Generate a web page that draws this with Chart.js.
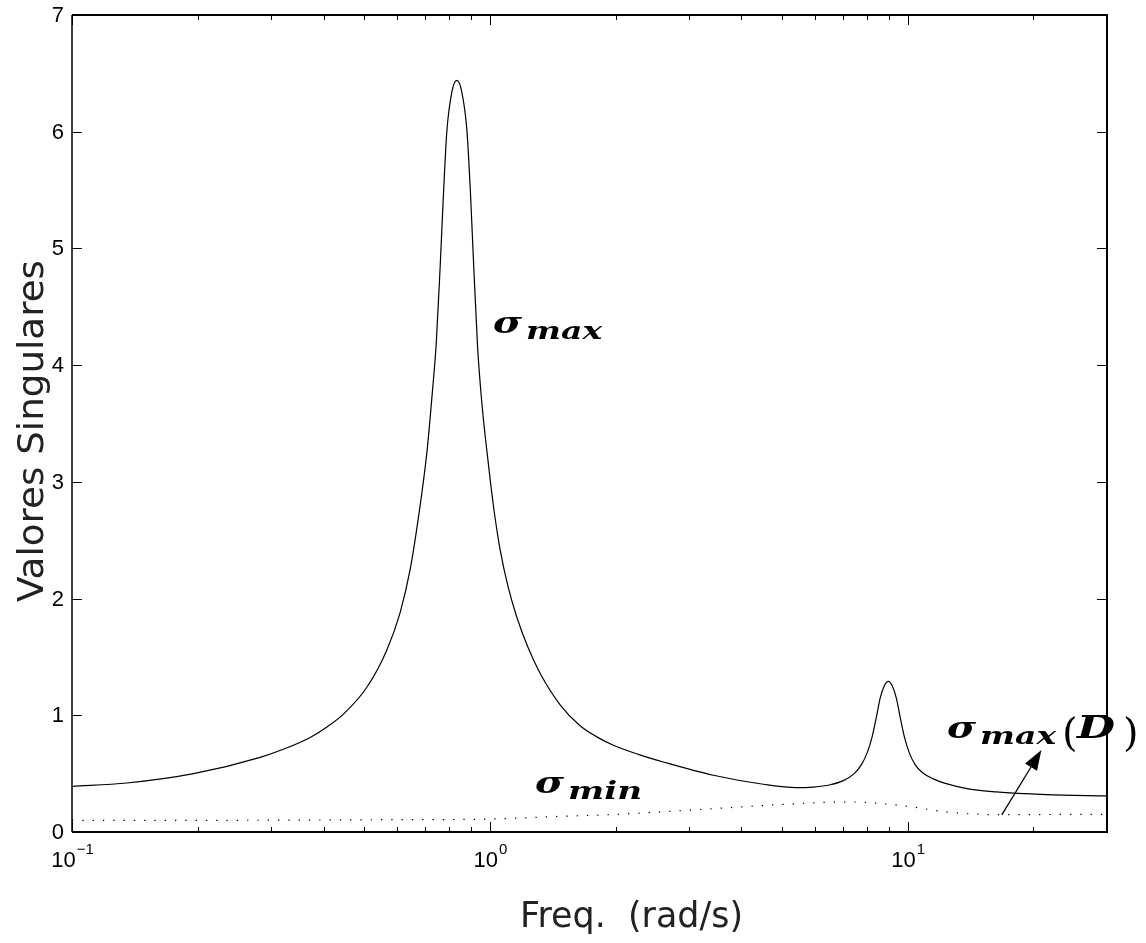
<!DOCTYPE html>
<html>
<head>
<meta charset="utf-8">
<script src="https://cdn.jsdelivr.net/npm/chart.js@4/dist/chart.umd.min.js"></script>
<style>
  html, body { margin: 0; padding: 0; background: #fff; }
</style>
</head>
<body>
<canvas id="svChart" width="1146" height="943"></canvas>
<script>
// sigma max curve (solid)
const freqMax = [0.1, 0.1354, 0.1954, 0.2821, 0.3238, 0.3716, 0.4074, 0.4464, 0.5078, 0.567, 0.61, 0.6447, 0.6738, 0.7068, 0.7278, 0.7447, 0.7607, 0.7742, 0.789, 0.8112, 0.8339,
  0.857, 0.881, 0.8981, 0.9137, 0.935, 0.9585, 0.9924, 1.024, 1.0583, 1.1062, 1.1605, 1.2346, 1.3191, 1.4731, 1.6444, 1.803, 1.9757, 2.267, 2.6022, 3.4277, 4.5139,
  5.414, 5.947, 6.528, 7.014, 7.451, 7.745, 8.004, 8.228, 8.412, 8.598, 8.79, 8.986,
  9.188, 9.392, 9.601, 9.815, 10.088, 10.428, 10.837, 11.514, 12.37, 13.96, 16.29, 21.46, 30];
const sigmaMax = [0.39, 0.42, 0.5, 0.64, 0.715, 0.81, 0.9, 1.01, 1.24, 1.56, 1.88, 2.25, 2.68, 3.25, 3.75, 4.2, 4.85, 5.45, 6.0, 6.34, 6.44,
  6.34, 6.02, 5.5, 4.9, 4.15, 3.65, 3.15, 2.75, 2.42, 2.1, 1.84, 1.58, 1.36, 1.09, 0.91, 0.815, 0.743, 0.665, 0.6, 0.486, 0.409,
  0.38, 0.385, 0.405, 0.44, 0.5, 0.575, 0.68, 0.82, 0.98, 1.15, 1.25, 1.29,
  1.25, 1.15, 0.98, 0.82, 0.68, 0.575, 0.51, 0.455, 0.415, 0.37, 0.343, 0.32, 0.309];

// sigma min curve (dotted)
const freqMin = [0.1, 0.2, 0.35, 0.61, 0.945, 1.47, 1.98, 3.43, 4.95, 6.51, 7.52, 8.58, 10.3, 12.4, 16.3, 21.9, 30];
const sigmaMin = [0.1, 0.1, 0.102, 0.106, 0.109, 0.134, 0.15, 0.2, 0.235, 0.255, 0.257, 0.245, 0.214, 0.171, 0.149, 0.15, 0.152];

const yTicks = [0, 1, 2, 3, 4, 5, 6, 7];
const xDecades = [0.1, 1, 10];
const xDecadeExp = ["\u22121", "0", "1"];

const toPoints = (xs, ys) => xs.map((x, i) => ({ x: x, y: ys[i] }));

// fit a string to a given width by horizontal scaling
function fitText(ctx, text, x, y, width) {
  const w = ctx.measureText(text).width;
  ctx.save();
  ctx.translate(x, y);
  ctx.scale(width / w, 1);
  ctx.fillText(text, 0, 0);
  ctx.restore();
}

const frame = {
  id: "frame",
  afterDraw(chart) {
    const ctx = chart.ctx;
    const a = chart.chartArea;
    const xs = chart.scales.x;
    const ys = chart.scales.y;
    ctx.save();
    ctx.strokeStyle = "#000";
    ctx.fillStyle = "#000";

    // box
    ctx.lineWidth = 2;
    ctx.beginPath();
    ctx.moveTo(a.left, a.top); ctx.lineTo(a.right, a.top);
    ctx.lineTo(a.right, a.bottom); ctx.lineTo(a.left, a.bottom);
    ctx.stroke();
    ctx.lineWidth = 1.5;
    ctx.beginPath();
    ctx.moveTo(a.left, a.top); ctx.lineTo(a.left, a.bottom);
    ctx.stroke();

    // x ticks (major + minor), bottom and top
    ctx.lineWidth = 1;
    ctx.beginPath();
    xDecades.forEach((d) => {
      for (let m = 1; m <= 9; m++) {
        const v = m * d;
        if (v < xs.min - 1e-9 || v > xs.max + 1e-9) continue;
        const px = Math.round(xs.getPixelForValue(v)) + 0.5;
        const len = m === 1 ? 10 : 5;
        ctx.moveTo(px, a.bottom); ctx.lineTo(px, a.bottom - len);
        ctx.moveTo(px, a.top); ctx.lineTo(px, a.top + len);
      }
    });
    // y ticks, left and right
    yTicks.forEach((t) => {
      const py = Math.round(ys.getPixelForValue(t)) + 0.5;
      ctx.moveTo(a.left, py); ctx.lineTo(a.left + 10, py);
      ctx.moveTo(a.right, py); ctx.lineTo(a.right - 10, py);
    });
    ctx.stroke();

    // y tick labels
    ctx.font = "22px 'Liberation Sans'";
    ctx.textAlign = "right";
    ctx.textBaseline = "middle";
    yTicks.forEach((t) => {
      ctx.fillText(String(t), a.left - 8, ys.getPixelForValue(t) + 1);
    });

    // x tick labels 10^n
    ctx.textBaseline = "alphabetic";
    ctx.textAlign = "left";
    xDecades.forEach((d, i) => {
      const px = xs.getPixelForValue(d);
      ctx.font = "22px 'Liberation Sans'";
      const wb = ctx.measureText("10").width;
      ctx.font = "15px 'Liberation Sans'";
      const we = ctx.measureText(xDecadeExp[i]).width;
      const x0 = px - (wb + we) / 2;
      ctx.font = "22px 'Liberation Sans'";
      ctx.fillText("10", x0, a.bottom + 35);
      ctx.font = "15px 'Liberation Sans'";
      ctx.fillText(xDecadeExp[i], x0 + wb + 1, a.bottom + 22);
    });

    // axis titles
    ctx.fillStyle = "#222";
    ctx.font = "36px 'DejaVu Sans'";
    ctx.textAlign = "left";
    fitText(ctx, "Freq.  (rad/s)", 520, a.bottom + 95, 223);
    ctx.save();
    ctx.translate(43, 602);
    ctx.rotate(-Math.PI / 2);
    fitText(ctx, "Valores Singulares", 0, 0, 342);
    ctx.restore();

    // annotations
    ctx.fillStyle = "#000";
    const sigma = (x, y, sub, subW) => {
      ctx.font = "bold italic 30px 'DejaVu Serif'";
      fitText(ctx, "\u03c3", x, y, 29);
      ctx.font = "bold italic 24px 'DejaVu Serif'";
      fitText(ctx, sub, x + 33, y + 6, subW);
    };
    sigma(xs.getPixelForValue(1.018), ys.getPixelForValue(4.275), "max", 76);
    sigma(xs.getPixelForValue(1.283), ys.getPixelForValue(0.334), "min", 74);
    const dx = xs.getPixelForValue(12.43);
    const dy = ys.getPixelForValue(0.806);
    sigma(dx, dy, "max", 76);
    ctx.font = "40px 'DejaVu Serif'";
    ctx.fillText("(", dx + 115, dy + 8);
    ctx.font = "bold italic 32px 'DejaVu Serif'";
    fitText(ctx, "D", dx + 130, dy, 38);
    ctx.font = "40px 'DejaVu Serif'";
    ctx.fillText(")", dx + 176, dy + 8);

    // arrow
    const x1 = xs.getPixelForValue(16.8), y1 = ys.getPixelForValue(0.146);
    const x2 = xs.getPixelForValue(20.9), y2 = ys.getPixelForValue(0.703);
    const ang = Math.atan2(y2 - y1, x2 - x1);
    const hl = 20, hw = 7;
    const bx = x2 - hl * Math.cos(ang), by = y2 - hl * Math.sin(ang);
    ctx.lineWidth = 1.3;
    ctx.beginPath();
    ctx.moveTo(x1, y1); ctx.lineTo(bx, by);
    ctx.stroke();
    ctx.beginPath();
    ctx.moveTo(x2, y2);
    ctx.lineTo(bx + hw * Math.sin(ang), by - hw * Math.cos(ang));
    ctx.lineTo(bx - hw * Math.sin(ang), by + hw * Math.cos(ang));
    ctx.closePath();
    ctx.fill();

    ctx.restore();
  }
};

const ctx = document.getElementById("svChart").getContext("2d");
new Chart(ctx, {
  type: "line",
  data: {
    datasets: [
      {
        label: "sigma max",
        data: toPoints(freqMax, sigmaMax),
        borderColor: "#000",
        borderWidth: 1.2,
        pointRadius: 0,
        cubicInterpolationMode: "monotone",
        fill: false,
      },
      {
        label: "sigma min",
        data: toPoints(freqMin, sigmaMin),
        borderColor: "#000",
        borderWidth: 1.2,
        borderDash: [1.3, 9],
        pointRadius: 0,
        cubicInterpolationMode: "monotone",
        fill: false,
      },
    ],
  },
  options: {
    responsive: false,
    animation: false,
    devicePixelRatio: 1,
    layout: { padding: { left: 72, top: 15, right: 39, bottom: 111 } },
    scales: {
      x: { type: "logarithmic", min: 0.1, max: 30, display: false },
      y: { type: "linear", min: 0, max: 7, display: false },
    },
    plugins: {
      legend: { display: false },
      tooltip: { enabled: false },
    },
  },
  plugins: [frame],
});
</script>
</body>
</html>
